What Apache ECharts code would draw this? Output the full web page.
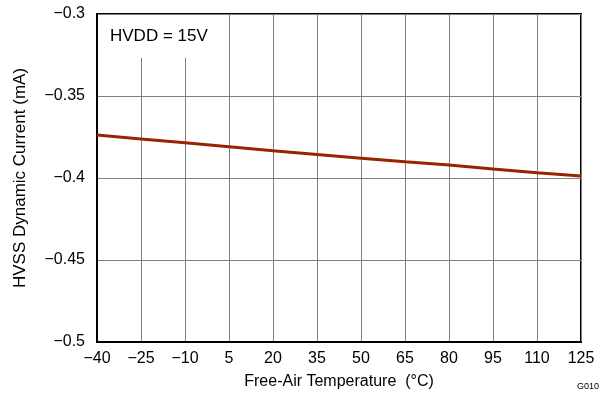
<!DOCTYPE html>
<html>
<head>
<meta charset="utf-8">
<script src="https://cdn.jsdelivr.net/npm/echarts@6/dist/echarts.min.js"></script>
<style>
    html, body { margin: 0; padding: 0; background: #fff; }
    #chartView { width: 602px; height: 396px; }
</style>
</head>
<body>
<div id="chartView"></div>
<script>
    // temperature (°C) and HVSS dynamic current (mA)
    var temperatures = [-40, -25, -10, 5, 20, 35, 50, 65, 80, 95, 110, 125];
    var currents = [-0.3738, -0.3762, -0.3785, -0.3809, -0.3834, -0.3857, -0.3879, -0.3901, -0.3921, -0.3945, -0.3968, -0.3988];
    var legendText = 'HVDD = 15V';

    var minus = function (v) {
        return String(v).replace('-', '\u2212');
    };

    var chartView = echarts.init(document.getElementById('chartView'));
    var theFont = 'Liberation Sans, Arial, sans-serif';

    var option = {
        animation: false,
        grid: {
            left: 97,
            right: 21,
            top: 14,
            bottom: 54,
            show: true,
            borderColor: '#000',
            borderWidth: 2
        },
        xAxis: {
            type: 'value',
            min: -40,
            max: 125,
            interval: 15,
            name: 'Free-Air Temperature  (°C)',
            nameLocation: 'middle',
            nameGap: 32,
            nameTextStyle: {color: '#000', fontSize: 16, fontFamily: theFont},
            axisLine: {show: true, onZero: false, lineStyle: {color: '#000', width: 2}},
            axisTick: {show: false},
            axisLabel: {
                color: '#000', fontSize: 16, fontFamily: theFont, margin: 9,
                formatter: function (v) { return minus(v); }
            },
            splitLine: {show: true, lineStyle: {color: '#808080', width: 1}}
        },
        yAxis: {
            type: 'value',
            min: -0.5,
            max: -0.3,
            interval: 0.05,
            name: 'HVSS Dynamic Current (mA)',
            nameLocation: 'middle',
            nameGap: 68,
            nameTextStyle: {color: '#000', fontSize: 17, fontFamily: theFont},
            axisLine: {show: true, onZero: false, lineStyle: {color: '#000', width: 2}},
            axisTick: {show: false},
            axisLabel: {
                color: '#000', fontSize: 16, fontFamily: theFont, margin: 12,
                formatter: function (v) { return minus(parseFloat(v.toFixed(2))); }
            },
            splitLine: {show: true, lineStyle: {color: '#808080', width: 1}}
        },
        series: [{
            type: 'line',
            symbol: 'none',
            smooth: false,
            lineStyle: {color: '#992200', width: 3},
            data: temperatures.map(function (t, i) { return [t, currents[i]]; }),
            z: 5
        }],
        graphic: [
            {
                type: 'rect',
                z: 50,
                shape: {x: 98, y: 15, width: 126, height: 43},
                style: {fill: '#fff'}
            },
            {
                type: 'text',
                z: 51,
                left: 110,
                top: 28,
                style: {text: legendText, fill: '#000', font: '17px ' + theFont}
            },
            {
                type: 'text',
                z: 51,
                left: 577,
                top: 382,
                style: {text: 'G010', fill: '#000', font: '9px ' + theFont}
            }
        ]
    };

    chartView.setOption(option);
</script>
</body>
</html>
